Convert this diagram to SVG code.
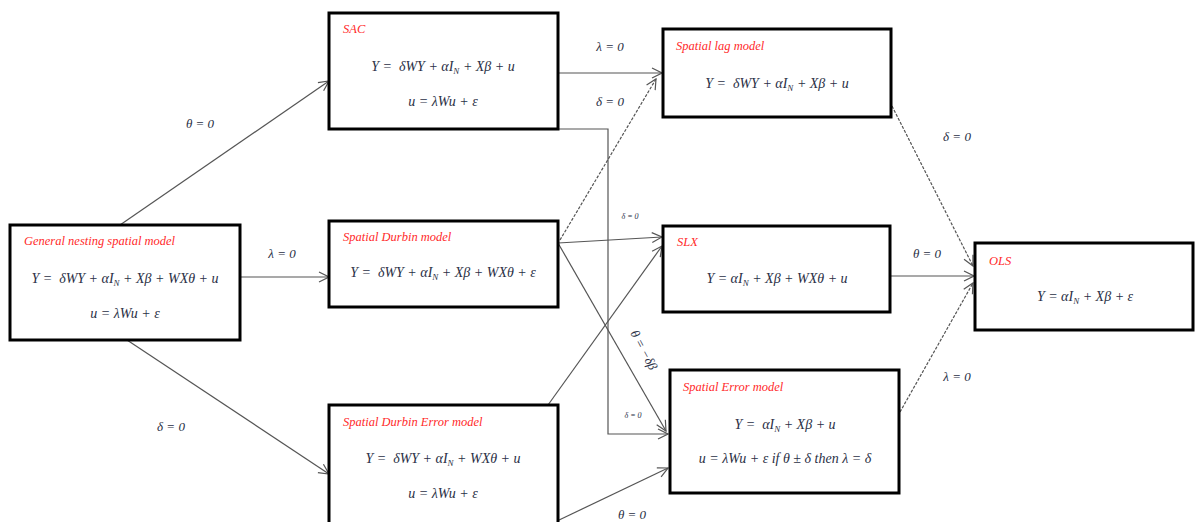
<svg xmlns="http://www.w3.org/2000/svg" width="1195" height="522" viewBox="0 0 1195 522">
<style>
.box{fill:#fff;stroke:#000;stroke-width:3}
.ttl{font-family:"Liberation Serif",serif;font-style:italic;font-size:12.5px;fill:#ff2a2a}
.eq{font-family:"Liberation Serif",serif;font-style:italic;font-size:14px;fill:#2a2f45;text-anchor:middle;white-space:pre}
.lbl{font-family:"Liberation Serif",serif;font-style:italic;font-size:13px;fill:#2a2f45;text-anchor:middle}
.sm{font-size:8px}
.ln{fill:none;stroke:#555;stroke-width:1.2}
.dash{stroke-dasharray:3 1.5}
</style>
<defs>
<marker id="arr" viewBox="0 0 12 12" refX="11" refY="6" markerWidth="12" markerHeight="12" markerUnits="userSpaceOnUse" orient="auto">
<path d="M1,1 L11,6 L1,11" fill="none" stroke="#555" stroke-width="1.2"/>
</marker>
</defs>
<rect width="1195" height="522" fill="#fff"/>
<g id="connectors">
<path class="ln" d="M120,225 L329,81" marker-end="url(#arr)"/>
<path class="ln" d="M240,277 L329,277" marker-end="url(#arr)"/>
<path class="ln" d="M127,340 L329,474" marker-end="url(#arr)"/>
<path class="ln" d="M558,73 L662,73" marker-end="url(#arr)"/>
<path class="ln" d="M558,129 H608 V434 H668" marker-end="url(#arr)"/>
<path class="ln dash" d="M560,240 L656,79" marker-end="url(#arr)"/>
<path class="ln" d="M558,243 L662,237" marker-end="url(#arr)"/>
<path class="ln" d="M558,243 L666,431" marker-end="url(#arr)"/>
<path class="ln" d="M548,405 L662,246" marker-end="url(#arr)"/>
<path class="ln" d="M557,521 L668,468" marker-end="url(#arr)"/>
<path class="ln dash" d="M892,106 L973,266" marker-end="url(#arr)"/>
<path class="ln" d="M890,276 L974,276" marker-end="url(#arr)"/>
<path class="ln dash" d="M900,412 L973,283" marker-end="url(#arr)"/>
<text class="lbl" x="200" y="128">θ = 0</text>
<text class="lbl" x="282" y="258">λ = 0</text>
<text class="lbl" x="171" y="431">δ = 0</text>
<text class="lbl" x="610" y="51">λ = 0</text>
<text class="lbl" x="610" y="106">δ = 0</text>
<text class="lbl sm" x="630" y="219">δ = 0</text>
<text class="lbl sm" x="633" y="418">δ = 0</text>
<text class="lbl" transform="translate(640,352) rotate(62)">θ = −δβ</text>
<text class="lbl" x="632" y="519">θ = 0</text>
<text class="lbl" x="957" y="141">δ = 0</text>
<text class="lbl" x="927" y="258">θ = 0</text>
<text class="lbl" x="957" y="381">λ = 0</text>
</g>
<g id="general">
<rect class="box" x="10" y="225" width="230" height="115"/>
<text class="ttl" x="24" y="245">General nesting spatial model</text>
<text class="eq" x="125" y="283">Y =  δWY + αI<tspan font-size="9" dy="3">N</tspan><tspan dy="-3"> + Xβ + WXθ + u</tspan></text>
<text class="eq" x="125" y="318">u = λWu + ε</text>
</g>
<g id="sac">
<rect class="box" x="329" y="13" width="229" height="116"/>
<text class="ttl" x="343" y="33">SAC</text>
<text class="eq" x="443" y="71">Y =  δWY + αI<tspan font-size="9" dy="3">N</tspan><tspan dy="-3"> + Xβ + u</tspan></text>
<text class="eq" x="443" y="106">u = λWu + ε</text>
</g>
<g id="sdm">
<rect class="box" x="329" y="221" width="229" height="86"/>
<text class="ttl" x="343" y="241">Spatial Durbin model</text>
<text class="eq" x="443" y="277">Y =  δWY + αI<tspan font-size="9" dy="3">N</tspan><tspan dy="-3"> + Xβ + WXθ + ε</tspan></text>
</g>
<g id="sdem">
<rect class="box" x="329" y="405" width="229" height="125"/>
<text class="ttl" x="343" y="426">Spatial  Durbin  Error model</text>
<text class="eq" x="443" y="463">Y =  δWY + αI<tspan font-size="9" dy="3">N</tspan><tspan dy="-3"> + WXθ + u</tspan></text>
<text class="eq" x="443" y="498">u = λWu + ε</text>
</g>
<g id="lag">
<rect class="box" x="663" y="29" width="228" height="88"/>
<text class="ttl" x="676" y="50">Spatial  lag model</text>
<text class="eq" x="777" y="88">Y =  δWY + αI<tspan font-size="9" dy="3">N</tspan><tspan dy="-3"> + Xβ + u</tspan></text>
</g>
<g id="slx">
<rect class="box" x="663" y="226" width="227" height="86"/>
<text class="ttl" x="677" y="246">SLX</text>
<text class="eq" x="777" y="283">Y = αI<tspan font-size="9" dy="3">N</tspan><tspan dy="-3"> + Xβ + WXθ + u</tspan></text>
</g>
<g id="sem">
<rect class="box" x="670" y="370" width="229" height="123"/>
<text class="ttl" x="683" y="391">Spatial  Error model</text>
<text class="eq" x="785" y="429">Y =  αI<tspan font-size="9" dy="3">N</tspan><tspan dy="-3"> + Xβ + u</tspan></text>
<text class="eq" x="785" y="463">u = λWu + ε if θ ± δ then λ = δ</text>
</g>
<g id="ols">
<rect class="box" x="975" y="243" width="218" height="87"/>
<text class="ttl" x="989" y="265">OLS</text>
<text class="eq" x="1085" y="301">Y = αI<tspan font-size="9" dy="3">N</tspan><tspan dy="-3"> + Xβ + ε</tspan></text>
</g>
</svg>
